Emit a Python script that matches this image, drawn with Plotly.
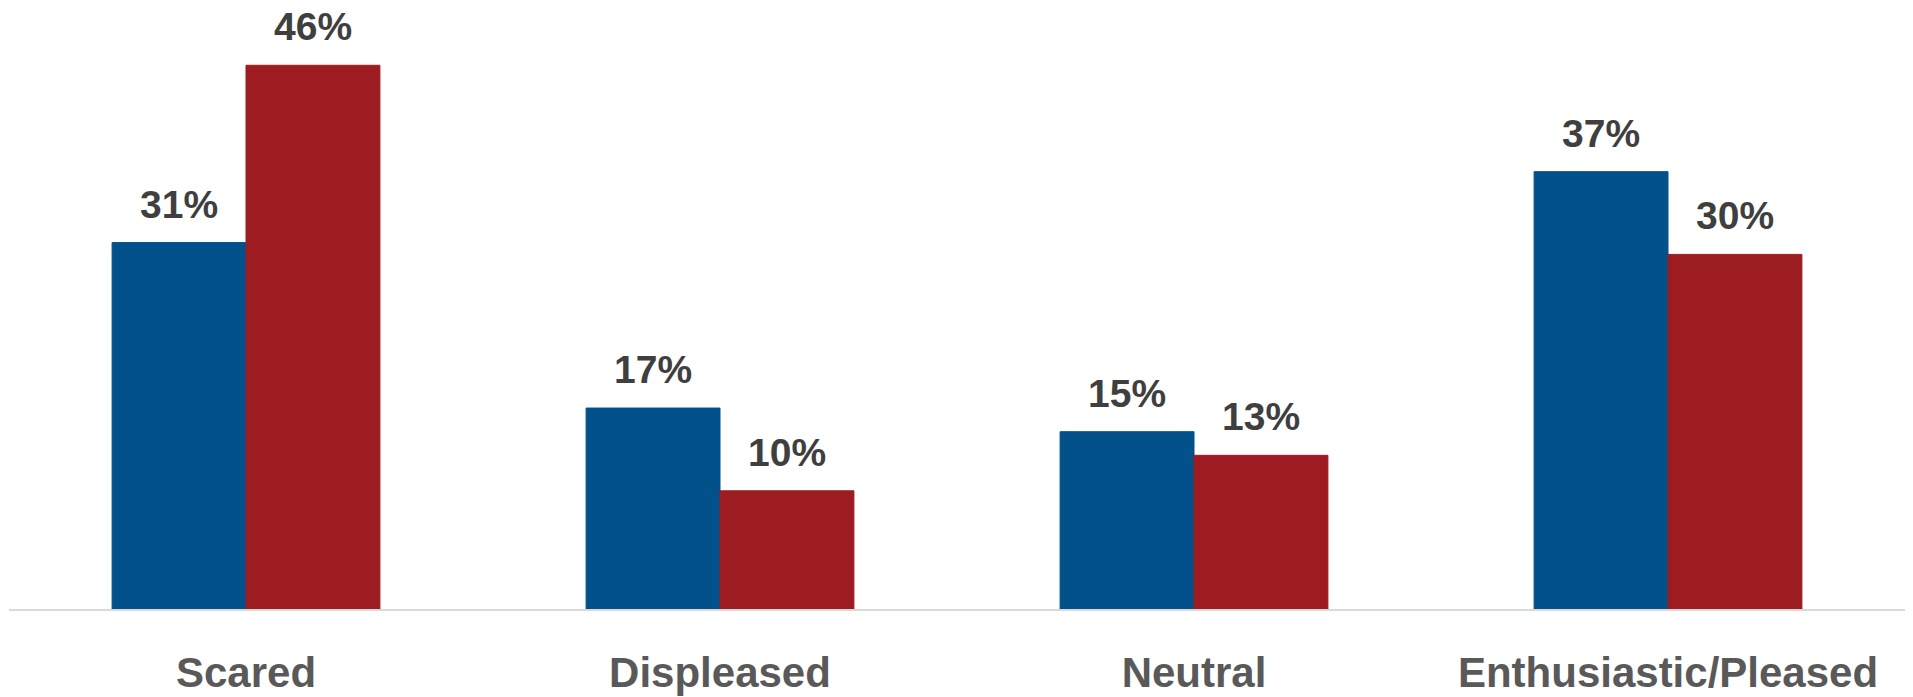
import plotly.graph_objects as go

categories = ["Scared", "Displeased", "Neutral", "Enthusiastic/Pleased"]
series_a = [31, 17, 15, 37]
series_b = [46, 10, 13, 30]
series_names = ["Group A", "Group B"]
colors = ["#02518A", "#9C1C22"]

# page has an 8px body margin; size the figure to fill the rest of the window
W, H = 1905, 689
ml, mr, mt, mb = 1, 8, 10, 81
bargap = 0.435

fig = go.Figure()
for name, vals, col in zip(series_names, [series_a, series_b], colors):
    fig.add_trace(go.Bar(
        x=categories, y=vals, name=name,
        marker=dict(color=col, line=dict(width=1, color=col)),
        hoverinfo="skip",
    ))

plot_w = W - ml - mr
cat_w = plot_w / len(categories)
bar_w = cat_w * (1 - bargap) / 2

for j, vals in enumerate([series_a, series_b]):
    shift = (-0.5 if j == 0 else 0.5) * bar_w
    for c, v in zip(categories, vals):
        fig.add_annotation(
            x=c, y=v, text=f"{v}%", showarrow=False,
            xshift=shift, yshift=15, yanchor="bottom",
            font=dict(family="Liberation Sans", size=39, color="#3F3F3F", weight="bold"),
        )

fig.update_layout(
    width=W, height=H,
    margin=dict(l=ml, r=mr, t=mt, b=mb),
    paper_bgcolor="white", plot_bgcolor="white",
    barmode="group", bargap=bargap, bargroupgap=0,
    showlegend=False,
    xaxis=dict(
        showline=True, linecolor="#D9D9D9", linewidth=2,
        showgrid=False, ticks="", ticklabelstandoff=26,
        tickfont=dict(family="Liberation Sans", size=42, color="#595959", weight="bold"),
    ),
    yaxis=dict(range=[0, 50], visible=False, showgrid=False, zeroline=False),
)

fig.write_html("out.html", config={"displayModeBar": False})
